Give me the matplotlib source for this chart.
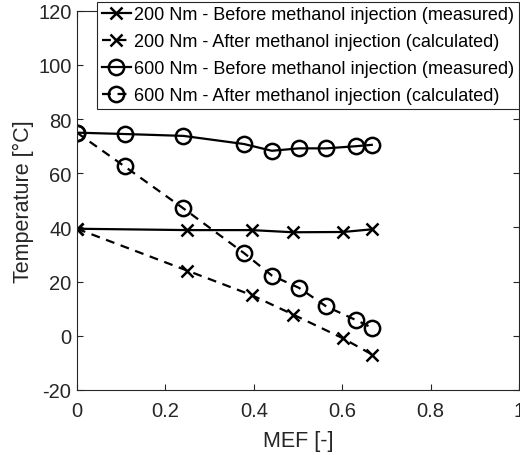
import matplotlib
matplotlib.use("Agg")
import matplotlib.pyplot as plt

plt.rcParams['font.family'] = ['Liberation Sans', 'DejaVu Sans']
plt.rcParams['axes.unicode_minus'] = False

# 200 Nm
mef_200 = [0.0, 0.25, 0.395, 0.489, 0.602, 0.668]
t_200_before = [39.5, 39.0, 39.0, 38.2, 38.3, 39.3]
t_200_after = [39.5, 24.0, 15.0, 7.8, -1.0, -7.0]

# 600 Nm
mef_600 = [0.0, 0.108, 0.241, 0.378, 0.441, 0.502, 0.564, 0.632, 0.667]
t_600_before = [75.0, 74.5, 73.8, 70.8, 68.3, 69.2, 69.2, 70.0, 70.5]
t_600_after = [75.0, 62.5, 47.0, 30.5, 22.2, 17.7, 10.8, 5.7, 3.0]

labels = [
    '200 Nm - Before methanol injection (measured)',
    '200 Nm - After methanol injection (calculated)',
    '600 Nm - Before methanol injection (measured)',
    '600 Nm - After methanol injection (calculated)',
]

fig = plt.figure(figsize=(5.2, 4.56), dpi=100)
ax = fig.add_axes([0.148, 0.143, 0.85, 0.831])

dash = (4, 3)
ax.plot(mef_200, t_200_before, '-x', color='black', lw=1.6, ms=8, mew=1.8, label=labels[0])
ax.plot(mef_200, t_200_after, '--x', color='black', lw=1.6, ms=8, mew=1.8, dashes=dash, label=labels[1])
ax.plot(mef_600, t_600_before, '-o', color='black', lw=1.6, ms=11, mew=1.8, mfc='none', label=labels[2])
ax.plot(mef_600, t_600_after, '--o', color='black', lw=1.6, ms=11, mew=1.8, mfc='none', dashes=dash, label=labels[3])

ax.set_xlim(0, 1)
ax.set_ylim(-20, 120)
ax.set_xticks([0, 0.2, 0.4, 0.6, 0.8, 1.0])
ax.set_xticklabels(['0', '0.2', '0.4', '0.6', '0.8', '1'])
ax.set_yticks(range(-20, 121, 20))
ax.set_xlabel('MEF [-]', fontsize=15.5, color='#262626', labelpad=7)
ax.set_ylabel('Temperature [°C]', fontsize=15.5, color='#262626', labelpad=3)
ax.tick_params(direction='in', labelsize=14.5, colors='#262626', top=True, right=True, length=4, pad=4)
ax.tick_params(axis='x', pad=8)
for s in ax.spines.values():
    s.set_color('#262626')
    s.set_linewidth(0.8)

leg = ax.legend(loc='upper right', bbox_to_anchor=(0.998, 0.994), bbox_transform=fig.transFigure,
                fontsize=13, handlelength=1.6, handletextpad=0.2,
                borderpad=0.25, labelspacing=0.55, fancybox=False, framealpha=1,
                edgecolor='#262626', borderaxespad=0)
leg.get_frame().set_linewidth(0.8)

fig.savefig('out.png', dpi=100)
